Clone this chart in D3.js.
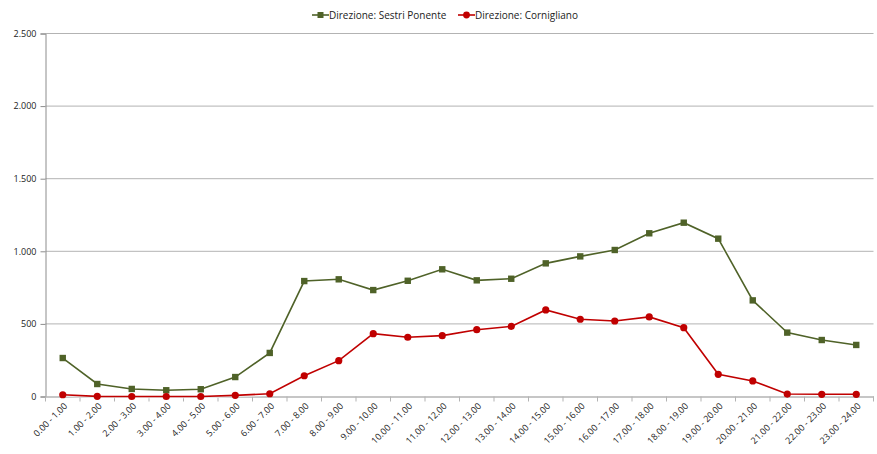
<!DOCTYPE html>
<html><head><meta charset="utf-8">
<script src="https://cdn.jsdelivr.net/npm/d3@7"></script>
<style>
body{margin:0;background:#fff;}
text{font-family:"Open Sans","Liberation Sans",sans-serif;}
</style></head>
<body><svg id="c" width="877" height="454"></svg>
<script>
const categories = ["0.00 - 1.00","1.00 - 2.00","2.00 - 3.00","3.00 - 4.00","4.00 - 5.00","5.00 - 6.00","6.00 - 7.00","7.00 - 8.00","8.00 - 9.00","9.00 - 10.00","10.00 - 11.00","11.00 - 12.00","12.00 - 13.00","13.00 - 14.00","14.00 - 15.00","15.00 - 16.00","16.00 - 17.00","17.00 - 18.00","18.00 - 19.00","19.00 - 20.00","20.00 - 21.00","21.00 - 22.00","22.00 - 23.00","23.00 - 24.00"];
const sestriPonente = [265,86,52,43,50,134,300,795,807,733,797,876,800,811,917,965,1009,1124,1197,1087,662,440,389,355];
const cornigliano = [12,1,0,0,0,8,19,143,247,433,408,419,460,483,596,532,520,548,474,153,107,17,15,15];
const yTicks = [0,500,1000,1500,2000,2500];
const seriesNames = ["Direzione: Sestri Ponente","Direzione: Cornigliano"];

const svg = d3.select("#c");
const L = 45.5, R = 873.5, T = 33.5, B = 396.5;
const x = d3.scaleBand().domain(categories).range([L,R]);
const y = d3.scaleLinear().domain([0,2500]).range([B,T]);
const fmt = v => d3.format(",")(v).replace(/,/g,".");

// gridlines
svg.append("g").selectAll("line").data(yTicks.filter(d=>d>0)).join("line")
  .attr("x1",L).attr("x2",R).attr("y1",d=>y(d)).attr("y2",d=>y(d))
  .attr("stroke","#b3b3b3").attr("stroke-width",1);

// y axis
const ya = svg.append("g").attr("transform",`translate(${L},0)`)
  .call(d3.axisLeft(y).tickValues(yTicks).tickFormat(fmt).tickSize(5).tickPadding(4));
ya.select(".domain").attr("stroke","#8c8c8c");
ya.selectAll(".tick line").attr("stroke","#8c8c8c");
ya.selectAll("text").attr("font-size","9px").attr("fill","#222");

// x axis
const xa = svg.append("g").attr("transform",`translate(0,${B})`)
  .call(d3.axisBottom(x).tickSize(0).tickSizeOuter(0));
xa.select(".domain").attr("stroke","#b3b3b3").attr("stroke-width",1.5);
xa.selectAll(".tick line").remove();
xa.selectAll("text").attr("font-size","9px").attr("fill","#222")
  .attr("text-anchor","end").attr("dy",0)
  .attr("transform","translate(3,8) rotate(-45)");
// category boundary ticks
svg.append("g").selectAll("line").data(d3.range(categories.length+1)).join("line")
  .attr("x1",i=>L+i*x.step()).attr("x2",i=>L+i*x.step())
  .attr("y1",B).attr("y2",B+5).attr("stroke","#b3b3b3");

const cx = d => x(d)+x.bandwidth()/2;
const line = d3.line().x((d,i)=>cx(categories[i])).y(d=>y(d));

function drawSeries(vals,color,shape){
  svg.append("path").datum(vals).attr("d",line).attr("fill","none")
    .attr("stroke","#fff").attr("stroke-opacity",0.6).attr("stroke-width",4);
  svg.append("path").datum(vals).attr("d",line).attr("fill","none")
    .attr("stroke",color).attr("stroke-width",1.6);
  const g = svg.append("g");
  if(shape==="square"){
    g.selectAll("rect").data(vals).join("rect")
      .attr("x",(d,i)=>cx(categories[i])-3.2).attr("y",d=>y(d)-3.2)
      .attr("width",6.4).attr("height",6.4).attr("fill",color);
  } else {
    g.selectAll("circle").data(vals).join("circle")
      .attr("cx",(d,i)=>cx(categories[i])).attr("cy",d=>y(d))
      .attr("r",3.6).attr("fill",color);
  }
}
drawSeries(sestriPonente,"#4f6228","square");
drawSeries(cornigliano,"#c00000","circle");

// legend
const leg = [{name:seriesNames[0],color:"#4f6228",shape:"square",x:312},
             {name:seriesNames[1],color:"#c00000",shape:"circle",x:458}];
leg.forEach(l=>{
  const g = svg.append("g").attr("transform",`translate(${l.x},15)`);
  g.append("line").attr("x1",0).attr("x2",17).attr("stroke",l.color).attr("stroke-width",1.6);
  if(l.shape==="square") g.append("rect").attr("x",5.5).attr("y",-3).attr("width",6).attr("height",6).attr("fill",l.color);
  else g.append("circle").attr("cx",8.5).attr("r",3.4).attr("fill",l.color);
  g.append("text").attr("x",17).attr("y",3.5).attr("font-size","10px").attr("fill","#222").text(l.name);
});
</script></body></html>
